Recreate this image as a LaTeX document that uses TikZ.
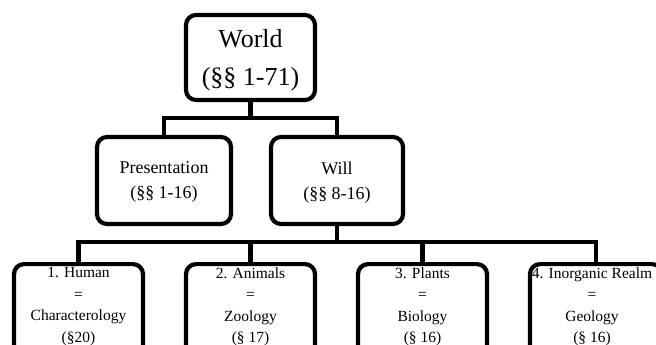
\documentclass[tikz,border=0pt]{standalone}
\usepackage{fontspec}
\setmainfont{Liberation Serif}
\begin{document}
\begin{tikzpicture}[x=1pt,y=-1pt,
  box/.style={draw, line width=4.2pt, rounded corners=10pt, inner sep=0pt, align=center},
  conn/.style={line width=4.2pt},
  bigtext/.style={font=\fontsize{26}{38}\selectfont},
  midtext/.style={font=\fontsize{18}{25}\selectfont},
  smalltext/.style={font=\fontsize{15.5}{21.5}\selectfont, align=center, inner sep=0pt, anchor=north}]
\clip (0,0) rectangle (656,345);
% top level
\node[box, bigtext, minimum width=129pt, minimum height=85pt, text depth=-4pt] (world) at (250.5,57.5) {World\\(§§ 1-71)};
% middle level
\node[box, midtext, minimum width=134pt, minimum height=87pt, text depth=-4pt] (pres) at (164,180.5) {Presentation\\(§§ 1-16)};
\node[box, midtext, minimum width=132pt, minimum height=87pt, text depth=-4pt] (will) at (337,180.5) {Will\\(§§ 8-16)};
% bottom level
\node[box, anchor=north, minimum width=129pt, minimum height=120pt] (b1) at (78.5,262) {};
\node[box, anchor=north, minimum width=129pt, minimum height=120pt] (b2) at (250.5,262) {};
\node[box, anchor=north, minimum width=129pt, minimum height=120pt] (b3) at (422.5,262) {};
\node[box, anchor=north, minimum width=132pt, minimum height=120pt] (b4) at (596,262) {};
\node[smalltext] (t1) at (78.5,267.2) {1. Human\\=\\Characterology\\(§20)};
\node[smalltext] (t2) at (250.5,267.2) {2. Animals\\=\\Zoology\\(§ 17)};
\node[smalltext] (t3) at (422.5,267.2) {3. Plants\\=\\Biology\\(§ 16)};
\node[smalltext] (t4) at (592,267.2) {4. Inorganic Realm\\=\\Geology\\(§ 16)};
% connectors
\coordinate (j1) at (250.5,118);
\coordinate (j2) at (337,242);
\draw[conn] (world.south) -- (j1);
\draw[conn] (pres.north) |- (j1) -| (will.north);
\draw[conn] (will.south) -- (j2);
\draw[conn] (b1.north) |- (j2) -| (b4.north);
\draw[conn] (b2.north) -- (b2.north |- j2);
\draw[conn] (b3.north) -- (b3.north |- j2);
\end{tikzpicture}
\end{document}
